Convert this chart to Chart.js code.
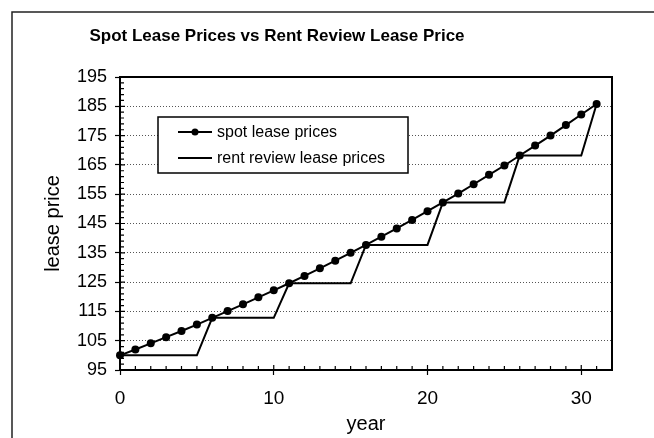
<!DOCTYPE html>
<html>
<head>
<meta charset="utf-8">
<title>Spot Lease Prices vs Rent Review Lease Price</title>
<script src="https://cdn.jsdelivr.net/npm/chart.js@4.4.0/dist/chart.umd.min.js"></script>
<style>
  html, body { margin: 0; padding: 0; background: #fff; }
  #wrap { width: 654px; height: 438px; }
</style>
</head>
<body>
<div id="wrap"><canvas id="leaseChart" width="654" height="438"></canvas></div>
<script>
// Chart data
const chartTitle = "Spot Lease Prices vs Rent Review Lease Price"
const seriesLabels = ["spot lease prices", "rent review lease prices"]
const xAxisTitle = "year"
const yAxisTitle = "lease price"

const years = [0, 1, 2, 3, 4, 5, 6, 7, 8, 9, 10, 11, 12, 13, 14, 15,
  16, 17, 18, 19, 20, 21, 22, 23, 24, 25, 26, 27, 28, 29, 30, 31]

const spotPrices = [100.0, 102.0, 104.1, 106.2, 108.3, 110.5, 112.8, 115.1,
  117.4, 119.8, 122.2, 124.6, 127.1, 129.7, 132.3, 135.0, 137.7, 140.5,
  143.3, 146.2, 149.2, 152.2, 155.2, 158.4, 161.6, 164.8, 168.2, 171.6,
  175.0, 178.6, 182.2, 185.8]

const rentReviewPrices = [100.0, 100.0, 100.0, 100.0, 100.0, 100.0, 112.8, 112.8,
  112.8, 112.8, 112.8, 124.6, 124.6, 124.6, 124.6, 124.6, 137.7, 137.7,
  137.7, 137.7, 137.7, 152.2, 152.2, 152.2, 152.2, 152.2, 168.2, 168.2,
  168.2, 168.2, 168.2, 185.8]

const xTickValues = [0, 10, 20, 30]
const yTickValues = [95, 105, 115, 125, 135, 145, 155, 165, 175, 185, 195]

const FONT = "'Liberation Sans', Arial, Helvetica, sans-serif"
const INK = "#000"

/**
 * Draws the frame, the chart title, inside ticks and the legend box
 */
const decorations = {
  id: "decorations",
  beforeDraw(chart) {
    const ctx = chart.ctx
    ctx.save()
    ctx.fillStyle = "#fff"
    ctx.fillRect(0, 0, chart.width, chart.height)
    // outer frame (runs off the right and bottom of the picture)
    ctx.strokeStyle = "#222"
    ctx.lineWidth = 1.5
    ctx.beginPath()
    ctx.moveTo(12, chart.height)
    ctx.lineTo(12, 12)
    ctx.lineTo(chart.width, 12)
    ctx.stroke()
    ctx.restore()
  },
  afterDraw(chart) {
    const ctx = chart.ctx
    const area = chart.chartArea
    const xs = chart.scales.x
    const ys = chart.scales.y
    ctx.save()

    // title
    ctx.fillStyle = INK
    ctx.font = "bold 17px " + FONT
    ctx.textAlign = "center"
    ctx.textBaseline = "middle"
    ctx.fillText(chartTitle, 277, 36)

    // top and right edges of the plot area
    ctx.strokeStyle = INK
    ctx.lineWidth = 2
    ctx.beginPath()
    ctx.moveTo(area.left, area.top)
    ctx.lineTo(area.right, area.top)
    ctx.lineTo(area.right, area.bottom)
    ctx.stroke()

    // inside ticks: y every 2, x every year, majors a bit longer
    ctx.lineWidth = 1.2
    ctx.beginPath()
    for (let v = ys.min; v <= ys.max; v += 2) {
      const y = ys.getPixelForValue(v)
      const len = yTickValues.includes(v) ? 5 : 4
      ctx.moveTo(area.left, y)
      ctx.lineTo(area.left + len, y)
    }
    for (let v = 0; v <= xs.max; v += 1) {
      const x = xs.getPixelForValue(v)
      const len = xTickValues.includes(v) ? 5 : 4
      ctx.moveTo(x, area.bottom)
      ctx.lineTo(x, area.bottom - len)
    }
    ctx.stroke()

    // legend box inside the plot area
    const bx = area.left + 38
    const by = area.top + 40
    const bw = 250
    const bh = 56
    ctx.fillStyle = "#fff"
    ctx.fillRect(bx, by, bw, bh)
    ctx.strokeStyle = INK
    ctx.lineWidth = 1.5
    ctx.strokeRect(bx, by, bw, bh)

    const rows = [by + 15, by + 41]
    chart.data.datasets.forEach((ds, i) => {
      const y = rows[i]
      ctx.strokeStyle = ds.borderColor
      ctx.lineWidth = 2
      ctx.beginPath()
      ctx.moveTo(bx + 20, y)
      ctx.lineTo(bx + 54, y)
      ctx.stroke()
      if (ds.pointRadius > 0) {
        ctx.fillStyle = ds.pointBackgroundColor
        ctx.beginPath()
        ctx.arc(bx + 37, y, 3.5, 0, Math.PI * 2)
        ctx.fill()
      }
      ctx.fillStyle = INK
      ctx.font = "16px " + FONT
      ctx.textAlign = "left"
      ctx.textBaseline = "middle"
      ctx.fillText(ds.label, bx + 59, y + 1)
    })
    ctx.restore()
  },
}

const canvas = document.getElementById("leaseChart")

const chart = new Chart(canvas, {
  type: "line",
  data: {
    datasets: [
      {
        label: seriesLabels[0],
        data: years.map((yr, i) => ({ x: yr, y: spotPrices[i] })),
        borderColor: INK,
        borderWidth: 2,
        pointRadius: 4,
        pointBackgroundColor: INK,
        pointBorderColor: INK,
        pointBorderWidth: 0,
        tension: 0,
        clip: false,
      },
      {
        label: seriesLabels[1],
        data: years.map((yr, i) => ({ x: yr, y: rentReviewPrices[i] })),
        borderColor: INK,
        borderWidth: 2,
        pointRadius: 0,
        tension: 0,
        clip: false,
      },
    ],
  },
  options: {
    responsive: false,
    animation: false,
    devicePixelRatio: 1,
    layout: {
      padding: { top: 77, right: 42, left: 0, bottom: 0 },
    },
    plugins: {
      legend: { display: false },
      title: { display: false },
      tooltip: { enabled: false },
    },
    scales: {
      x: {
        type: "linear",
        min: 0,
        max: 32,
        afterBuildTicks: (scale) => {
          scale.ticks = xTickValues.map((v) => ({ value: v }))
        },
        afterFit: (scale) => {
          scale.height = 68
        },
        grid: {
          drawOnChartArea: false,
          drawTicks: true,
          tickLength: 5,
          tickColor: INK,
          tickWidth: 1.2,
        },
        border: { display: true, color: INK, width: 2 },
        ticks: {
          color: INK,
          font: { family: FONT, size: 19 },
          padding: 12,
          maxRotation: 0,
        },
        title: {
          display: true,
          text: xAxisTitle,
          color: INK,
          font: { family: FONT, size: 20 },
          padding: { top: 0, bottom: 2 },
        },
      },
      y: {
        type: "linear",
        min: 95,
        max: 195,
        afterBuildTicks: (scale) => {
          scale.ticks = yTickValues.map((v) => ({ value: v }))
        },
        afterFit: (scale) => {
          scale.width = 120
        },
        grid: {
          color: "#555",
          lineWidth: 1,
          drawTicks: true,
          tickLength: 5,
          tickColor: INK,
          tickWidth: 1.2,
        },
        border: { display: true, color: INK, width: 2, dash: [1, 2] },
        ticks: {
          color: INK,
          font: { family: FONT, size: 18 },
          padding: 8,
        },
        title: {
          display: true,
          text: yAxisTitle,
          color: INK,
          font: { family: FONT, size: 20 },
          padding: { top: 41, bottom: 0 },
        },
      },
    },
  },
  plugins: [decorations],
})
</script>
</body>
</html>
